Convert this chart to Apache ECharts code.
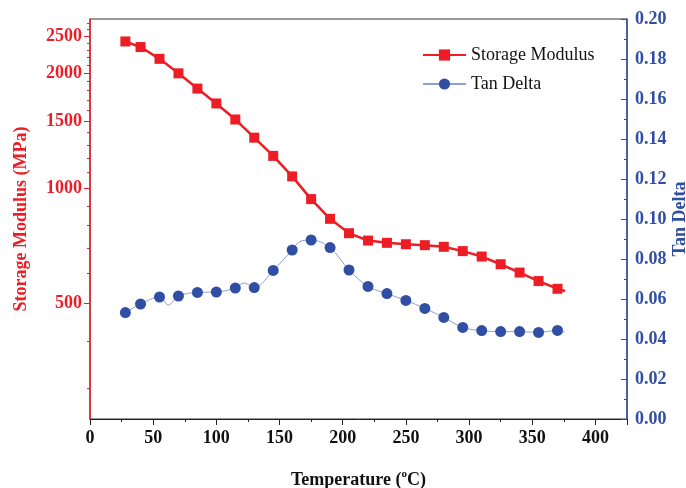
<!DOCTYPE html>
<html>
<head>
<meta charset="utf-8">
<script src="https://cdn.jsdelivr.net/npm/echarts@6/dist/echarts.min.js"></script>
<style>
  html, body { margin: 0; padding: 0; background: #fff; }
  #chart { width: 686px; height: 488px; }
</style>
</head>
<body>
<div id="chart"></div>
<script>
// storage modulus (MPa)
const modTemps = [28, 40, 55, 70, 85, 100, 115, 130, 145, 160, 175, 190, 205, 220, 235, 250, 265, 280, 295, 310, 325, 340, 355, 370, 376]
const modValues = [2420, 2340, 2180, 1998, 1823, 1667, 1514, 1357, 1216, 1075, 938, 833, 764, 731, 721, 715, 711, 704, 686, 664, 634, 603, 573, 547, 540]

// tan delta, the extra points carry the wiggles between markers
const tanTemps = [28, 40, 55, 62, 70, 85, 100, 115, 122, 130, 145, 160, 166, 175, 190, 205, 220, 235, 250, 265, 280, 295, 310, 325, 340, 355, 370, 376]
const tanValues = [0.0532, 0.0575, 0.061, 0.057, 0.0615, 0.0633, 0.0635, 0.0655, 0.068, 0.0657, 0.0743, 0.0845, 0.0887, 0.0895, 0.0857, 0.0745, 0.0663, 0.0627, 0.0593, 0.0553, 0.0508, 0.0458, 0.0442, 0.0437, 0.0437, 0.0433, 0.0443, 0.0433]
const tanNoMarker = [62, 122, 166, 376]
const modNoMarker = [376]

const modLabels = [500, 1000, 1500, 2000, 2500]
const modMinorTicks = [300, 400, 600, 700, 800, 900, 1100, 1200, 1300, 1400, 1600, 1700, 1800, 1900, 2100, 2200, 2300, 2400, 2600, 2700]

const RED = "#ee1c25"
const BLUE = "#2f4ea4"
const FONT = "Liberation Serif"

const chart = echarts.init(document.getElementById("chart"))

const modData = modTemps.map((t, i) => {
  const item = { value: [t, modValues[i]] }
  if (modNoMarker.includes(t)) item.symbol = "none"
  return item
})
const tanData = tanTemps.map((t, i) => {
  const item = { value: [t, tanValues[i]] }
  if (tanNoMarker.includes(t)) item.symbol = "none"
  return item
})

chart.setOption({
  backgroundColor: "#fff",
  animation: false,
  textStyle: { fontFamily: FONT },
  grid: {
    left: 90, right: 59, top: 19, bottom: 69,
    outerBoundsMode: "none", containLabel: false,
    show: true, borderColor: "#333", borderWidth: 1,
  },
  legend: {
    left: 417,
    top: 41,
    orient: "vertical",
    itemWidth: 43,
    itemHeight: 14,
    itemGap: 11,
    textStyle: { fontFamily: FONT, fontSize: 18, color: "#111" },
    data: ["Storage Modulus", "Tan Delta"],
  },
  xAxis: {
    type: "value",
    min: 0,
    max: 425,
    interval: 50,
    name: "Temperature ({sup|o}C)",
    nameLocation: "middle",
    nameGap: 50,
    nameMoveOverlap: false,
    nameTextStyle: {
      fontFamily: FONT, fontSize: 18, fontWeight: "bold", color: "#111",
      rich: { sup: { fontSize: 11, fontWeight: "bold", fontFamily: FONT, padding: [0, 0, 12, 0] } },
    },
    axisLine: { show: true, lineStyle: { color: "#222", width: 1 } },
    axisTick: { show: true, inside: false, length: 6, lineStyle: { color: "#222" } },
    minorTick: { show: true, splitNumber: 2, length: 3, lineStyle: { color: "#222" } },
    axisLabel: {
      fontFamily: FONT, fontSize: 18, fontWeight: "bold", color: "#111", margin: 10,
      formatter: (v) => (v <= 400 ? String(v) : ""),
    },
    splitLine: { show: false },
  },
  yAxis: [
    {
      type: "log",
      min: 250,
      max: 2770,
      position: "left",
      name: "Storage Modulus (MPa)",
      nameLocation: "middle",
      nameGap: 60,
      nameMoveOverlap: false,
      nameTextStyle: { fontFamily: FONT, fontSize: 18, fontWeight: "bold", color: RED },
      axisLine: { show: true, lineStyle: { color: RED, width: 1.5 } },
      axisTick: { show: true, inside: false, length: 6, customValues: modLabels, lineStyle: { color: RED } },
      axisLabel: {
        fontFamily: FONT, fontSize: 18, fontWeight: "bold", color: RED, margin: 8,
        customValues: modLabels,
        formatter: (v) => String(Math.round(v)),
      },
      splitLine: { show: false },
    },
    {
      type: "value",
      min: 0,
      max: 0.2,
      interval: 0.02,
      position: "right",
      name: "Tan Delta",
      nameLocation: "middle",
      nameGap: 44,
      nameRotate: 90,
      nameMoveOverlap: false,
      nameTextStyle: { fontFamily: FONT, fontSize: 18, fontWeight: "bold", color: BLUE },
      axisLine: { show: true, lineStyle: { color: BLUE, width: 1.5 } },
      axisTick: { show: true, inside: true, length: 6, lineStyle: { color: BLUE } },
      minorTick: { show: true, splitNumber: 2, length: 3, lineStyle: { color: BLUE } },
      axisLabel: {
        fontFamily: FONT, fontSize: 18, fontWeight: "bold", color: BLUE, margin: 8,
        formatter: (v) => v.toFixed(2),
      },
      splitLine: { show: false },
    },
    {
      // minor ticks for the log axis
      type: "log",
      min: 250,
      max: 2770,
      position: "left",
      axisLine: { show: false },
      axisTick: { show: true, inside: false, length: 3, customValues: modMinorTicks, lineStyle: { color: RED } },
      axisLabel: { show: false },
      splitLine: { show: false },
    },
  ],
  series: [
    {
      name: "Storage Modulus",
      type: "line",
      yAxisIndex: 0,
      data: modData,
      symbol: "rect",
      symbolSize: 10,
      lineStyle: { color: RED, width: 2.5 },
      itemStyle: { color: RED },
      z: 3,
    },
    {
      name: "Tan Delta",
      type: "line",
      yAxisIndex: 1,
      data: tanData,
      smooth: 0.35,
      symbol: "circle",
      symbolSize: 11,
      lineStyle: { color: "#8d9fd3", width: 1 },
      itemStyle: { color: BLUE },
      z: 2,
    },
  ],
})
</script>
</body>
</html>
